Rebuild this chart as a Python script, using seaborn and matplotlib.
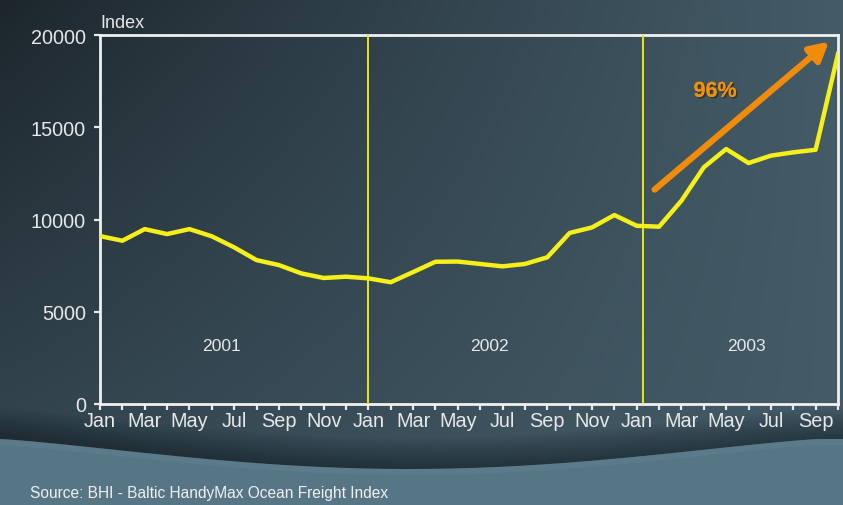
import numpy as np
import pandas as pd
import matplotlib
matplotlib.use("Agg")
import matplotlib.pyplot as plt
import matplotlib.patheffects as pe
from matplotlib import font_manager
import seaborn as sns

# ---- data ----
months = ["Jan", "Feb", "Mar", "Apr", "May", "Jun", "Jul", "Aug", "Sep", "Oct", "Nov", "Dec"] * 2 + \
         ["Jan", "Feb", "Mar", "Apr", "May", "Jun", "Jul", "Aug", "Sep", "Oct"]
index_values = [9100, 8850, 9480, 9210, 9480, 9090, 8490, 7800, 7530, 7080, 6830, 6900,
                6810, 6600, 7150, 7710, 7720, 7590, 7460, 7590, 7950, 9270, 9570, 10240,
                9660, 9610, 11020, 12830, 13820, 13060, 13460, 13640, 13780, 18970]
years = ["2001", "2002", "2003"]
year_label_pos = [5.45, 17.4, 28.9]
year_dividers = [12, 24.3]
y_ticks = [0, 5000, 10000, 15000, 20000]
growth_label = "96%"
source_text = "Source: BHI - Baltic HandyMax Ocean Freight Index"

df = pd.DataFrame({"t": np.arange(len(index_values)), "value": index_values})

font = "Liberation Sans"
names = {f.name for f in font_manager.fontManager.ttflist}
narrow = "Liberation Sans Narrow" if "Liberation Sans Narrow" in names else font

W, H = 843, 506
fig = plt.figure(figsize=(W / 100, H / 100), dpi=100)

# ---- background gradient ----
bg = fig.add_axes([0, 0, 1, 1], zorder=-10)
yy, xx = np.mgrid[0:H, 0:W]
xn = xx / W
yn = yy / H
t = np.clip(1 - (1 - xn) * (1 - 0.62 * yn), 0, 1) ** 0.9
c0 = np.array([0x1c, 0x25, 0x2c]) / 255
c1 = np.array([0x44, 0x5c, 0x68]) / 255
img = c0[None, None, :] * (1 - t[..., None]) + c1[None, None, :] * t[..., None]
bg.imshow(img, extent=[0, W, H, 0], aspect="auto")
# bottom wave band
bx = np.linspace(0, W, 200)
by = 440 + 30 * np.sin(np.pi * np.clip(bx / W * 1.03, 0, 1)) ** 1.2
for k in range(14):
    bg.fill_between(bx, by - 2.2 * (14 - k), by, color="#0e161b", alpha=0.04, lw=0)
bg.fill_between(bx, by, H, color="#5b7a8a", lw=0)
bg.fill_between(bx, by + 6, H, color="#557381", lw=0, alpha=0.5)
bg.set_xlim(0, W)
bg.set_ylim(H, 0)
bg.axis("off")

# ---- main chart ----
ax = fig.add_axes([100 / W, (H - 405) / H, (838 - 100) / W, (405 - 36) / H])
ax.set_facecolor("none")
sns.lineplot(data=df, x="t", y="value", ax=ax, color="#f5f01a", lw=3.2, zorder=5)

for xv in year_dividers:
    ax.axvline(xv, color="#e8e81a", lw=1.4, zorder=3)

ax.set_xlim(0, len(index_values) - 1)
ax.set_ylim(0, 20000)
ax.set_yticks(y_ticks)
ax.set_yticklabels([str(v) for v in y_ticks])
ax.set_xticks(np.arange(len(index_values)))
ax.set_xticklabels([m if i % 2 == 0 else "" for i, m in enumerate(months)])

txt_color = "#e8e8e8"
for lab in ax.get_xticklabels() + ax.get_yticklabels():
    lab.set_fontfamily(font)
    lab.set_fontsize(14.3)
    lab.set_color(txt_color)
ax.tick_params(axis="both", colors="#e8e8e8", width=1.6, length=4, direction="out")
ax.tick_params(axis="y", pad=6)
ax.tick_params(axis="x", pad=1)
for s in ax.spines.values():
    s.set_color("#f0f0f0")
    s.set_linewidth(2)
ax.set_xlabel("")
ax.set_ylabel("")

ax.text(0.0, 1.012, "Index", transform=ax.transAxes, ha="left", va="bottom",
        fontsize=13, color=txt_color, family=font)

for lab, xp in zip(years, year_label_pos):
    ax.text(xp, 3150, lab, ha="center", va="center", fontsize=12.6, color=txt_color, family=font)

# growth arrow
ax.annotate("", xy=(32.6, 19640), xytext=(24.8, 11620),
            arrowprops=dict(arrowstyle="-|>,head_length=1.1,head_width=0.6",
                            color="#f08c0a", lw=4.5, shrinkA=0, shrinkB=0), zorder=6)
ax.text(27.5, 16950, growth_label, ha="center", va="center", fontsize=15.5, fontweight="bold",
        color="#f0900c", family=font,
        path_effects=[pe.withSimplePatchShadow(offset=(1.2, -1.2), shadow_rgbFace="#222222", alpha=0.6), pe.Normal()])

src_size = 11.2 if narrow == font else 13.5
fig.text(30 / W, 1 - 494 / H, source_text, ha="left", va="center", fontsize=src_size,
         color="#f0f0f0", family=narrow)

fig.savefig("out.png", dpi=100)
